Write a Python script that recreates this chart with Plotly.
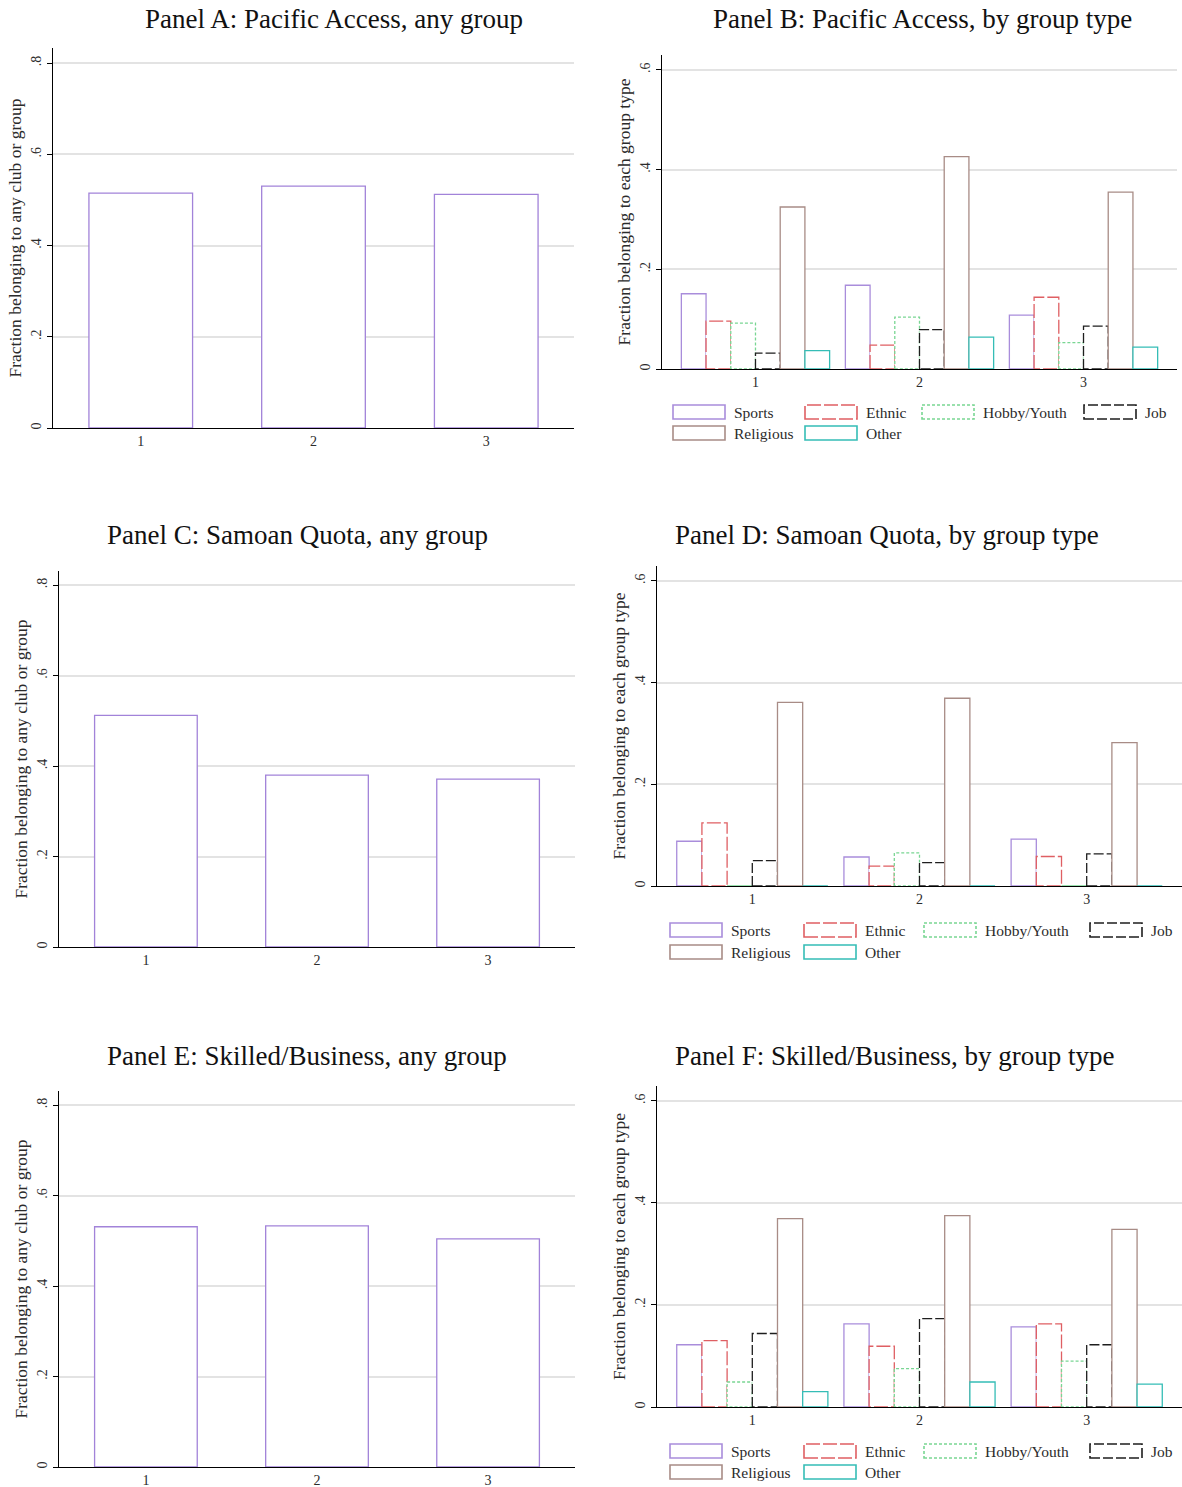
import plotly.graph_objects as go

W, H = 1182, 1487

# ---------------- data ----------------
categories = [1, 2, 3]
cat_labels = ["1", "2", "3"]

any_pacific = [0.515, 0.530, 0.512]
any_samoan = [0.512, 0.380, 0.371]
any_skilled = [0.531, 0.533, 0.504]

group_types = ["Sports", "Ethnic", "Hobby/Youth", "Job", "Religious", "Other"]

pacific_sports = [0.151, 0.168, 0.108]
pacific_ethnic = [0.096, 0.048, 0.144]
pacific_hobby = [0.092, 0.104, 0.053]
pacific_job = [0.032, 0.079, 0.086]
pacific_religious = [0.325, 0.426, 0.355]
pacific_other = [0.037, 0.064, 0.044]

samoan_sports = [0.088, 0.057, 0.092]
samoan_ethnic = [0.124, 0.039, 0.058]
samoan_hobby = [0.0, 0.065, 0.0]
samoan_job = [0.050, 0.046, 0.063]
samoan_religious = [0.361, 0.369, 0.282]
samoan_other = [0.0, 0.0, 0.0]

skilled_sports = [0.122, 0.163, 0.157]
skilled_ethnic = [0.130, 0.119, 0.163]
skilled_hobby = [0.049, 0.075, 0.090]
skilled_job = [0.144, 0.173, 0.122]
skilled_religious = [0.369, 0.375, 0.348]
skilled_other = [0.030, 0.049, 0.045]

any_ticks = [0, 0.2, 0.4, 0.6, 0.8]
any_ticklabels = ["0", ".2", ".4", ".6", ".8"]
type_ticks = [0, 0.2, 0.4, 0.6]
type_ticklabels = ["0", ".2", ".4", ".6"]

titles = [
    "Panel A: Pacific Access, any group",
    "Panel B: Pacific Access, by group type",
    "Panel C: Samoan Quota, any group",
    "Panel D: Samoan Quota, by group type",
    "Panel E: Skilled/Business, any group",
    "Panel F: Skilled/Business, by group type",
]
ytitle_any = "Fraction belonging to any club or group"
ytitle_type = "Fraction belonging to each group type"

# ---------------- styles ----------------
SERIF = "Liberation Serif"
TXT = "#2b2b2b"
PURPLE = "#a283d9"
type_styles = {
    "Sports": dict(color="#a98ddb", dash="solid"),
    "Ethnic": dict(color="#df5f63", dash="14px,3px"),
    "Hobby/Youth": dict(color="#79d693", dash="3px,2px"),
    "Job": dict(color="#1e1e1e", dash="10px,3px"),
    "Religious": dict(color="#a88c86", dash="solid"),
    "Other": dict(color="#35bdb6", dash="solid"),
}

panels = [
    dict(kind="any", box=(53, 574, 48, 428), ymax=0.833, xr=[0.492, 3.508],
         data=any_pacific, title_xy=(143, 19)),
    dict(kind="type", box=(662, 1177, 55, 369), ymax=0.630, xr=[0.43, 3.57],
         data=[pacific_sports, pacific_ethnic, pacific_hobby, pacific_job,
               pacific_religious, pacific_other], title_xy=(711, 19),
         legend=dict(cols=[673, 805, 922, 1084], rows=[405, 426])),
    dict(kind="any", box=(59, 575, 571, 947), ymax=0.831, xr=[0.492, 3.508],
         data=any_samoan, title_xy=(105, 535)),
    dict(kind="type", box=(657, 1182, 566, 886), ymax=0.629, xr=[0.43, 3.57],
         data=[samoan_sports, samoan_ethnic, samoan_hobby, samoan_job,
               samoan_religious, samoan_other], title_xy=(673, 535),
         legend=dict(cols=[670, 804, 924, 1090], rows=[923, 945])),
    dict(kind="any", box=(59, 575, 1091, 1467), ymax=0.831, xr=[0.492, 3.508],
         data=any_skilled, title_xy=(105, 1056)),
    dict(kind="type", box=(657, 1182, 1086, 1407), ymax=0.629, xr=[0.43, 3.57],
         data=[skilled_sports, skilled_ethnic, skilled_hobby, skilled_job,
               skilled_religious, skilled_other], title_xy=(673, 1056),
         legend=dict(cols=[670, 804, 924, 1090], rows=[1444, 1465])),
]

GROUP_W = 0.904
BAR_W = GROUP_W / len(group_types)

fig = go.Figure()
layout = dict(
    width=W, height=H,
    margin=dict(l=0, r=0, t=0, b=0),
    plot_bgcolor="white", paper_bgcolor="white",
    showlegend=False,
    font=dict(family=SERIF, color=TXT),
)
shapes = []
annotations = []

for k, p in enumerate(panels, start=1):
    sfx = "" if k == 1 else str(k)
    xref, yref = "x" + sfx, "y" + sfx
    x0, x1, y0, y1 = p["box"]

    if p["kind"] == "any":
        fig.add_trace(go.Bar(
            x=categories, y=p["data"], width=0.6,
            marker=dict(color="white", line=dict(color=PURPLE, width=1.3)),
            xaxis=xref, yaxis=yref, showlegend=False,
        ))
        ticks, ticklabels, ytitle = any_ticks, any_ticklabels, ytitle_any
    else:
        for i, (name, vals) in enumerate(zip(group_types, p["data"])):
            off = -GROUP_W / 2 + i * BAR_W
            xs, ys = [], []
            for c, v in zip(categories, vals):
                a, b = c + off, c + off + BAR_W
                xs += [a, a, b, b, a, None]
                ys += [0, v, v, 0, 0, None]
            st = type_styles[name]
            fig.add_trace(go.Scatter(
                x=xs, y=ys, mode="lines", fill="toself", fillcolor="white",
                line=dict(color=st["color"], width=1.3, dash=st["dash"]),
                name=name, xaxis=xref, yaxis=yref, showlegend=False,
                hoverinfo="skip",
            ))
        ticks, ticklabels, ytitle = type_ticks, type_ticklabels, ytitle_type

        lg = p["legend"]
        order = [(0, 0), (0, 1), (0, 2), (0, 3), (1, 0), (1, 1)]
        for name, (r, c) in zip(group_types, order):
            bx0 = lg["cols"][c]
            bx1 = bx0 + 52
            by0 = lg["rows"][r]
            by1 = by0 + 14
            st = type_styles[name]
            shapes.append(dict(
                type="rect", xref="paper", yref="paper",
                x0=bx0 / W, x1=bx1 / W, y0=1 - by1 / H, y1=1 - by0 / H,
                line=dict(color=st["color"], width=1.6, dash=st["dash"]),
                fillcolor="white",
            ))
            annotations.append(dict(
                text=name, xref="paper", yref="paper",
                x=(bx1 + 7) / W, y=1 - (by0 + 7.5) / H,
                xanchor="left", yanchor="middle", showarrow=False,
                font=dict(family=SERIF, size=15.5, color=TXT),
            ))

    layout["xaxis" + sfx] = dict(
        domain=[x0 / W, x1 / W], anchor=yref, range=p["xr"],
        tickmode="array", tickvals=categories, ticktext=cat_labels,
        showline=True, linecolor="black", linewidth=1.2, ticks="",
        showgrid=False, zeroline=False, fixedrange=True,
        tickfont=dict(family=SERIF, size=14, color=TXT),
    )
    layout["yaxis" + sfx] = dict(
        domain=[1 - y1 / H, 1 - y0 / H], anchor=xref, range=[0, p["ymax"]],
        tickmode="array", tickvals=ticks, ticktext=ticklabels, tickangle=-90,
        ticks="outside", ticklen=5, tickcolor="black", tickwidth=1,
        showline=True, linecolor="black", linewidth=1.2,
        showgrid=True, gridcolor="#e3e3e3", gridwidth=1.5, zeroline=False,
        fixedrange=True,
        tickfont=dict(family=SERIF, size=14, color=TXT),
        title=dict(text=ytitle, font=dict(family=SERIF, size=17.5, color=TXT),
                   standoff=3),
    )

    tx, ty = p["title_xy"]
    annotations.append(dict(
        text=titles[k - 1], xref="paper", yref="paper",
        x=tx / W, y=1 - ty / H, xanchor="left", yanchor="middle",
        showarrow=False, font=dict(family=SERIF, size=27, color="#111"),
    ))

layout["shapes"] = shapes
layout["annotations"] = annotations
fig.update_layout(**layout)

fig.write_html("out.html", config={"displayModeBar": False},
               post_script="document.body.style.margin='0';")
